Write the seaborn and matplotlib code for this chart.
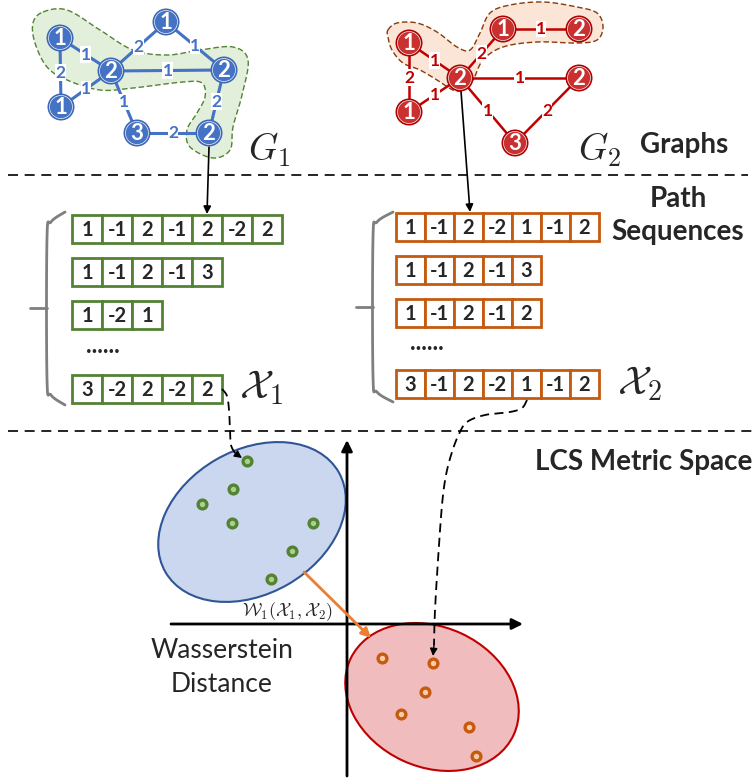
import numpy as np
import seaborn as sns
import matplotlib.pyplot as plt
from matplotlib.patches import Circle, Ellipse, Rectangle, Polygon

# ---- data (pixel layout of the diagram) ----
g1_labels = ['1', '1', '2', '1', '2', '3', '2']
g1_x = [60, 61, 111, 166, 224, 137, 209]
g1_y = [38, 107, 71, 22, 70, 133, 133]
g1_edges = [(0, 2), (0, 1), (1, 2), (2, 3), (3, 4), (2, 4), (2, 5), (5, 6), (4, 6)]
g1_weights = ['1', '2', '1', '2', '1', '1', '1', '2', '2']

g2_labels = ['1', '1', '2', '1', '2', '2', '3']
g2_x = [409, 409, 460, 503, 579, 579, 515]
g2_y = [43, 112, 78, 29, 29, 78, 143]
g2_edges = [(0, 2), (0, 1), (1, 2), (2, 3), (3, 4), (2, 5), (2, 6), (6, 5)]
g2_weights = ['1', '2', '1', '2', '1', '1', '1', '2']

seq1 = [[1, -1, 2, -1, 2, -2, 2], [1, -1, 2, -1, 3], [1, -2, 1], [3, -2, 2, -2, 2]]
seq2 = [[1, -1, 2, -2, 1, -1, 2], [1, -1, 2, -1, 3], [1, -1, 2, -1, 2], [3, -1, 2, -2, 1, -1, 2]]

emb1_x = [247, 233, 202, 232, 313, 292, 271]
emb1_y = [461, 489, 504, 523, 523, 551, 579]
emb2_x = [382, 433, 425, 401, 469, 476]
emb2_y = [658, 663, 692, 714, 727, 756]

blob1 = [(43, 12), (67, 10), (100, 30), (133, 50), (167, 55), (200, 50), (233, 47), (248, 60),
         (242, 95), (233, 127), (230, 150), (213, 158), (190, 147), (187, 130), (197, 113),
         (205, 97), (202, 83), (183, 82), (133, 88), (100, 90), (67, 80), (47, 67), (35, 43), (33, 23)]
blob2 = [(388, 30), (397, 23), (417, 23), (437, 32), (457, 47), (470, 50), (480, 33), (490, 13),
         (510, 5), (543, 2), (577, 7), (597, 13), (603, 27), (597, 40), (577, 43), (537, 42),
         (503, 47), (483, 60), (473, 80), (463, 90), (453, 90), (437, 80), (420, 70), (403, 63),
         (392, 50), (388, 37)]


def smooth(pts, closed=True, n=16):
    P = np.array(pts, float)
    N = len(P)
    if not closed:
        P = np.vstack([P[0], P, P[-1]])
    out = []
    rng = range(N) if closed else range(1, N)
    for i in rng:
        p0, p1, p2, p3 = P[i - 1], P[i], P[(i + 1) % len(P)], P[(i + 2) % len(P)]
        t = np.linspace(0, 1, n, endpoint=False)[:, None]
        out.append(0.5 * (2 * p1 + (-p0 + p2) * t + (2 * p0 - 5 * p1 + 4 * p2 - p3) * t ** 2
                          + (-p0 + 3 * p1 - 3 * p2 + p3) * t ** 3))
    if not closed:
        out.append(P[-1][None, :])
    return np.vstack(out)


sns.set_theme(style='white')
plt.rcParams['font.family'] = ['Lato', 'DejaVu Sans']
plt.rcParams['mathtext.fontset'] = 'cm'

fig = plt.figure(figsize=(7.56, 7.78), dpi=100)
ax = fig.add_axes([0, 0, 1, 1])
ax.set_xlim(0, 756)
ax.set_ylim(778, 0)
ax.axis('off')

# highlighted sub-paths
ax.add_patch(Polygon(smooth(blob1), closed=True, facecolor='#e2efda', edgecolor='#548235',
                     lw=1, ls=(0, (4, 2)), zorder=1))
ax.add_patch(Polygon(smooth(blob2), closed=True, facecolor='#fbe5d6', edgecolor='#843c0c',
                     lw=1, ls=(0, (4, 2)), zorder=1))


def draw_graph(xs, ys, labels, edges, weights, fill, dark, ecol, elw):
    for (a, b), w in zip(edges, weights):
        ax.plot([xs[a], xs[b]], [ys[a], ys[b]], color=ecol, lw=elw, zorder=2)
        ax.text((xs[a] + xs[b]) / 2, (ys[a] + ys[b]) / 2, w, color=ecol, fontsize=12.5,
                fontweight='bold', ha='center', va='center', zorder=3,
                bbox=dict(boxstyle='square,pad=0.02', fc='white', ec='none'))
    for x, y, lab in zip(xs, ys, labels):
        ax.add_patch(Circle((x, y), 13.5, facecolor=dark, edgecolor='none', zorder=4))
        ax.add_patch(Circle((x, y), 11.5, facecolor=fill, edgecolor='#f2f2f2', lw=0.5, zorder=5))
        ax.text(x, y + 0.5, lab, color='white', fontsize=16, fontweight='bold',
                ha='center', va='center', zorder=6)


draw_graph(g1_x, g1_y, g1_labels, g1_edges, g1_weights, '#4472c4', '#3d68b8', '#4472c4', 2.2)
draw_graph(g2_x, g2_y, g2_labels, g2_edges, g2_weights, '#c9302f', '#b00000', '#c00000', 1.8)

ax.text(269, 150, r'$G_1$', fontsize=27, ha='center', va='center')
ax.text(600, 150, r'$G_2$', fontsize=27, ha='center', va='center')

# separators
ax.plot([8, 748], [175, 175], color='black', lw=1.2, ls=(0, (6, 4)))
ax.plot([8, 752], [431, 431], color='black', lw=1.2, ls=(0, (6, 4)))

ax.text(684, 145, 'Graphs', fontsize=20, fontweight='bold', ha='center', va='center')
ax.text(678, 199, 'Path', fontsize=20, fontweight='bold', ha='center', va='center')
ax.text(678, 232, 'Sequences', fontsize=20, fontweight='bold', ha='center', va='center')
ax.text(752, 462, 'LCS Metric Space', fontsize=20, fontweight='bold', ha='right', va='center')


# path sequences
def draw_seqs(seqs, x0, cw, ch, rows_y, dots_y, col):
    for seq, yc in zip(seqs, rows_y):
        for i, v in enumerate(seq):
            ax.add_patch(Rectangle((x0 + i * cw, yc - ch / 2), cw, ch, facecolor='white',
                                   edgecolor=col, lw=2, zorder=3))
            ax.text(x0 + (i + 0.5) * cw, yc + 1, str(v), fontsize=14.5, fontweight='bold',
                    ha='center', va='center', zorder=4)
    ax.text(x0 + 14, dots_y, '......', fontsize=17, fontweight='bold', ha='left', va='center')


draw_seqs(seq1, 72, 30, 28, [229, 272, 315, 389], 345, '#548235')
draw_seqs(seq2, 396, 29, 28, [227, 270, 313, 384], 342, '#c55a11')


def brace(xl, xr, ytop, ybot, ymid):
    pts = smooth([(xr, ytop), (xl + 4, ytop + 10), (xl, ytop + 26), (xl, ybot - 26),
                  (xl + 4, ybot - 10), (xr, ybot)], closed=False)
    ax.plot(pts[:, 0], pts[:, 1], color='#7f7f7f', lw=2)
    ax.plot([xl - 17, xl], [ymid, ymid], color='#7f7f7f', lw=2)


brace(47, 65, 212, 405, 308)
brace(373, 393, 212, 402, 307)

ax.text(261, 388, r'$\mathcal{X}_1$', fontsize=29, ha='center', va='center')
ax.text(640, 384, r'$\mathcal{X}_2$', fontsize=29, ha='center', va='center')

# arrows from graphs to sequences
arrow = dict(arrowstyle='-|>', color='black', lw=1.2, mutation_scale=11, shrinkA=0, shrinkB=0)
ax.annotate('', xy=(207, 214), xytext=(209, 147), arrowprops=arrow)
ax.annotate('', xy=(470, 212), xytext=(461, 91), arrowprops=arrow)

# metric space axes
axis_arrow = dict(arrowstyle='-|>', color='black', lw=2, mutation_scale=16, shrinkA=0, shrinkB=0)
ax.annotate('', xy=(347, 440), xytext=(347, 776), arrowprops=axis_arrow)
ax.annotate('', xy=(523, 624), xytext=(171, 624), arrowprops=axis_arrow)

ax.add_patch(Ellipse((252, 522), 200, 144, angle=-30, facecolor='#cad7ee', edgecolor='#2f5597',
                     lw=1.5, zorder=2))
ax.add_patch(Ellipse((432, 697), 180, 140, angle=25, facecolor='#f0bcbd', edgecolor='#c00000',
                     lw=1.5, zorder=2))

sns.scatterplot(x=emb1_x, y=emb1_y, ax=ax, s=40, color='#a9d18e', edgecolor='#548235',
                linewidth=2.4, zorder=5)
sns.scatterplot(x=emb2_x, y=emb2_y, ax=ax, s=40, color='#f8cbad', edgecolor='#c55a11',
                linewidth=2.4, zorder=5)

# dashed curved arrows from sequences to embeddings
c1 = smooth([(222, 389), (227, 396), (229, 410), (230, 430), (231, 445), (235, 453)],
            closed=False)
ax.plot(c1[:, 0], c1[:, 1], color='black', lw=1.3, ls=(0, (5, 3)), zorder=6)
ax.annotate('', xy=(242, 458), xytext=(235, 453),
            arrowprops=dict(arrowstyle='-|>', color='black', lw=1, mutation_scale=11,
                            shrinkA=0, shrinkB=0), zorder=6)
c2 = smooth([(527, 400), (522, 408), (510, 412), (485, 415), (467, 422), (459, 434),
             (452, 452), (446, 475), (442, 505), (438, 560), (435, 610), (434, 645)],
            closed=False)
ax.plot(c2[:, 0], c2[:, 1], color='black', lw=1.3, ls=(0, (5, 3)), zorder=6)
ax.annotate('', xy=(433, 656), xytext=(434, 645),
            arrowprops=dict(arrowstyle='-|>', color='black', lw=1, mutation_scale=11,
                            shrinkA=0, shrinkB=0), zorder=6)

# Wasserstein distance
ax.annotate('', xy=(371, 638), xytext=(304, 572),
            arrowprops=dict(arrowstyle='-|>', color='#ed7d31', lw=2, mutation_scale=14,
                            shrinkA=0, shrinkB=0), zorder=6)
ax.text(287, 612, r'$\mathcal{W}_1(\mathcal{X}_1, \mathcal{X}_2)$', fontsize=13,
        ha='center', va='center', zorder=7)
ax.text(222, 650, 'Wasserstein', fontsize=19, ha='center', va='center')
ax.text(222, 685, 'Distance', fontsize=19, ha='center', va='center')

fig.savefig('out.png', dpi=100)
